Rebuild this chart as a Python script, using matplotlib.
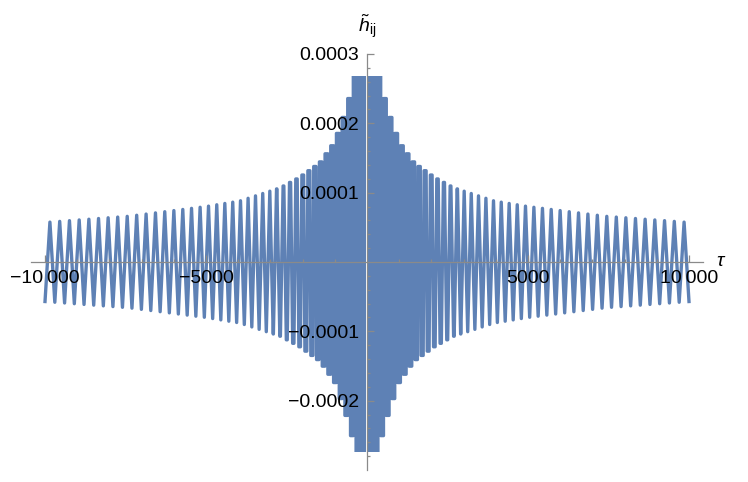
import numpy as np
import matplotlib
matplotlib.use("Agg")
import matplotlib.pyplot as plt
from matplotlib.patches import Rectangle

# Envelope of the oscillation (|tau| -> amplitude)
env_tau = [0, 400, 470, 680, 1000, 1460, 2100, 2700, 3950, 5000, 7400, 10000]
env_amp = [0.00036, 0.000275, 0.000250, 0.000215, 0.000173, 0.000143,
           0.000122, 0.000107, 0.000088, 0.000080, 0.000066, 0.000057]

# Local period of the oscillation (|tau| -> period)
per_tau = [0, 1500, 2500, 4000, 5000, 6500, 8500, 10000]
per_val = [170, 180, 205, 240, 260, 290, 300, 305]

# how flat the peaks look (1 = flat steps near the middle, 0 = sharp V)
flat_tau = [0, 1200, 3000, 10000]
flat_val = [1.0, 1.0, 0.0, 0.0]

# plot range clip (the flat top / bottom)
clip_lo, clip_hi = -0.000274, 0.000268

x_major = [-10000, -5000, 5000, 10000]
x_labels = ["\u221210\u2009000", "\u22125000", "5000", "10\u2009000"]
y_major = [-0.0002, -0.0001, 0.0001, 0.0002, 0.0003]
y_labels = ["\u22120.0002", "\u22120.0001", "0.0001", "0.0002", "0.0003"]

plt.rcParams['font.family'] = ['Liberation Sans', 'DejaVu Sans']
plt.rcParams['mathtext.fontset'] = 'custom'
plt.rcParams['mathtext.rm'] = 'Liberation Sans'
plt.rcParams['mathtext.it'] = 'Liberation Sans:italic'

# phase along |tau| from the period readings
s = np.linspace(0, 10000, 40001)
per = np.interp(s, per_tau, per_val)
ph = np.concatenate([[0], np.cumsum(np.diff(s) * 0.5 * (1 / per[1:] + 1 / per[:-1]))]) * 2 * np.pi

# extrema: one every half period, counted in from the ends (minimum at +-10000)
n = np.arange(int(ph[-1] // np.pi) + 1)
t_ext = np.interp(ph[-1] - n * np.pi, ph, s)
sign = np.where(n % 2 == 0, -1.0, 1.0)
a_ext = sign * np.interp(t_ext, env_tau, env_amp)
w_ext = 0.25 * np.interp(t_ext, per_tau, per_val) * np.interp(t_ext, flat_tau, flat_val)
w_ext[0] = 0.0

# right half: each extremum is a short flat piece (outer edge first, inner edge second)
t_in = t_ext - w_ext
t_out = t_ext + w_ext
t_right = np.column_stack([t_in, t_out])[::-1].ravel()
a_right = np.column_stack([a_ext, a_ext])[::-1].ravel()

tau = np.concatenate([-t_right[::-1], t_right])
h = np.concatenate([a_right[::-1], a_right])

fig = plt.figure(figsize=(7.48, 4.82), dpi=100)
ax = fig.add_axes([31 / 748, 12 / 482, 672 / 748, 416 / 482])
ax.set_axisbelow(False)

line, = ax.plot(tau, h, color='#5E81B5', lw=2.4, solid_joinstyle='round', zorder=2)
rect = Rectangle((-11000, clip_lo), 22000, clip_hi - clip_lo, transform=ax.transData)
line.set_clip_path(rect)

ax.set_xlim(-10435, 10435)
ax.set_ylim(-0.0003, 0.0003)

for side in ['top', 'right']:
    ax.spines[side].set_visible(False)
ax.spines['left'].set_position(('data', 0))
ax.spines['bottom'].set_position(('data', 0))
for side in ['left', 'bottom']:
    ax.spines[side].set_color('#8a8a8a')
    ax.spines[side].set_linewidth(0.9)
    ax.spines[side].set_zorder(3)

ax.set_xticks(x_major)
ax.set_xticklabels(x_labels)
ax.set_xticks([v for v in range(-10000, 10001, 1000) if v not in x_major and v != 0], minor=True)
ax.set_yticks(y_major)
ax.set_yticklabels(y_labels)
ax.set_yticks([v * 1e-5 for v in range(-28, 29, 2) if v % 10 != 0], minor=True)

ax.tick_params(axis='both', which='both', direction='in', color='#8a8a8a', width=0.9)
ax.tick_params(axis='both', which='major', length=5, labelsize=14)
ax.tick_params(axis='both', which='minor', length=2.5)
ax.tick_params(axis='y', which='major', pad=6)
ax.tick_params(axis='x', which='major', pad=6)

ax.text(1.02, 0.5, r'$\tau$', transform=ax.transAxes, fontsize=14, va='center', ha='left')
ax.text(0.0, 0.0003 + 0.00002, r'$\tilde{h}_{\mathrm{ij}}$', transform=ax.transData,
        fontsize=14, ha='center', va='bottom')

fig.savefig('out.png', dpi=100)
